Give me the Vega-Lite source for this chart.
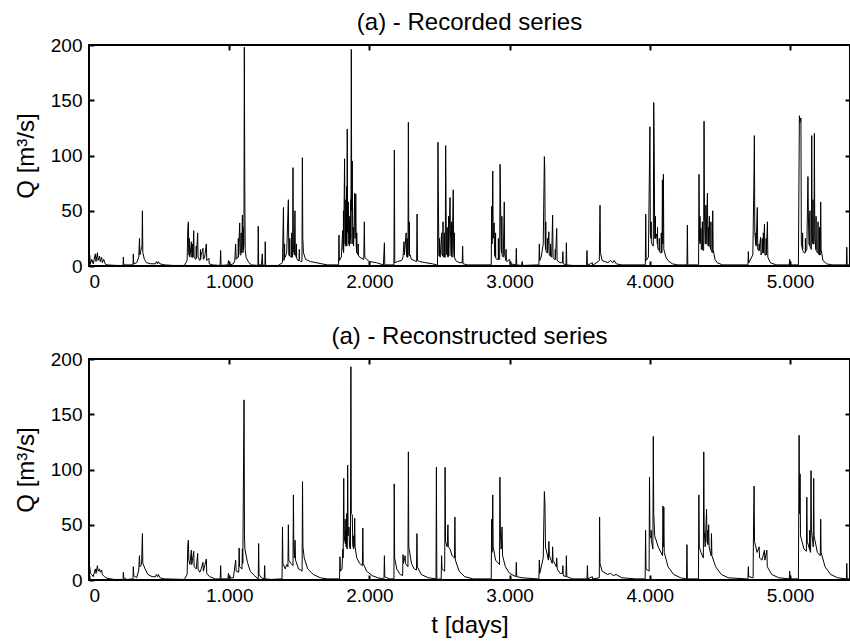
{
 "$schema": "https://vega.github.io/schema/vega-lite/v6.json",
 "padding": {"left": 13, "top": 10, "right": 0, "bottom": 0},
 "background": "white",
 "config": {
  "font": "Liberation Sans",
  "view": {"stroke": "black", "strokeWidth": 2},
  "axis": {"grid": false, "domain": false, "tickColor": "black", "tickWidth": 2, "tickSize": -5, "labelFontSize": 19, "labelColor": "black", "titleFontSize": 24, "titleFontWeight": "normal", "titleColor": "black", "labelFont": "Liberation Sans", "titleFont": "Liberation Sans"},
  "title": {"fontSize": 24, "fontWeight": "normal", "color": "black", "font": "Liberation Sans", "offset": 1},
  "concat": {"spacing": 32}
 },
 "datasets": {
  "rec": [
   {"t":0,"q":3},{"t":5,"q":10},{"t":10,"q":2},{"t":20,"q":6},{"t":30,"q":2},{"t":45,"q":11},{"t":50,"q":4},{"t":60,"q":12},{"t":65,"q":5},{"t":75,"q":9},{"t":80,"q":4},{"t":90,"q":8},{"t":95,"q":3},{"t":105,"q":6},{"t":115,"q":2},{"t":130,"q":1},{"t":200,"q":0.5},{"t":243,"q":0.5},{"t":245,"q":8},{"t":248,"q":1},{"t":300,"q":1},{"t":314,"q":1},{"t":316,"q":11},{"t":319,"q":2},{"t":340,"q":3},{"t":355,"q":8},{"t":360,"q":25},{"t":363,"q":10},{"t":370,"q":14},{"t":378,"q":18},{"t":381,"q":50},{"t":384,"q":12},{"t":395,"q":6},{"t":410,"q":3},{"t":440,"q":2},{"t":475,"q":2},{"t":480,"q":4},{"t":490,"q":2},{"t":495,"q":4},{"t":505,"q":2},{"t":540,"q":1},{"t":600,"q":0.5},{"t":680,"q":0.5},{"t":700,"q":5},{"t":705,"q":35},{"t":709,"q":40},{"t":712,"q":12},{"t":720,"q":8},{"t":730,"q":22},{"t":733,"q":8},{"t":747,"q":32},{"t":750,"q":8},{"t":760,"q":6},{"t":775,"q":30},{"t":778,"q":8},{"t":790,"q":5},{"t":800,"q":10},{"t":813,"q":16},{"t":816,"q":6},{"t":825,"q":8},{"t":837,"q":20},{"t":840,"q":5},{"t":855,"q":7},{"t":858,"q":2},{"t":880,"q":1},{"t":935,"q":0.5},{"t":939,"q":14},{"t":942,"q":0.5},{"t":990,"q":1},{"t":995,"q":5},{"t":1000,"q":3},{"t":1005,"q":1},{"t":1030,"q":2},{"t":1040,"q":5},{"t":1046,"q":20},{"t":1050,"q":6},{"t":1060,"q":8},{"t":1075,"q":39},{"t":1078,"q":10},{"t":1090,"q":15},{"t":1094,"q":46},{"t":1098,"q":12},{"t":1105,"q":20},{"t":1108,"q":198},{"t":1111,"q":80},{"t":1114,"q":15},{"t":1120,"q":8},{"t":1140,"q":3},{"t":1160,"q":1},{"t":1205,"q":0.5},{"t":1207,"q":36},{"t":1210,"q":1},{"t":1230,"q":1},{"t":1236,"q":11},{"t":1239,"q":1},{"t":1255,"q":0.5},{"t":1257,"q":22},{"t":1260,"q":0.5},{"t":1350,"q":0.5},{"t":1380,"q":3},{"t":1387,"q":53},{"t":1390,"q":5},{"t":1400,"q":8},{"t":1410,"q":12},{"t":1422,"q":60},{"t":1425,"q":10},{"t":1440,"q":8},{"t":1452,"q":8},{"t":1455,"q":89},{"t":1458,"q":15},{"t":1465,"q":10},{"t":1469,"q":50},{"t":1472,"q":10},{"t":1490,"q":5},{"t":1510,"q":4},{"t":1519,"q":4},{"t":1522,"q":98},{"t":1525,"q":25},{"t":1530,"q":12},{"t":1545,"q":6},{"t":1580,"q":4},{"t":1620,"q":3},{"t":1660,"q":2},{"t":1700,"q":1},{"t":1770,"q":1},{"t":1780,"q":1},{"t":1783,"q":28},{"t":1786,"q":5},{"t":1800,"q":8},{"t":1809,"q":32},{"t":1812,"q":15},{"t":1823,"q":97},{"t":1826,"q":30},{"t":1832,"q":45},{"t":1835,"q":20},{"t":1842,"q":124},{"t":1845,"q":30},{"t":1850,"q":58},{"t":1853,"q":20},{"t":1860,"q":40},{"t":1865,"q":25},{"t":1871,"q":196},{"t":1874,"q":50},{"t":1878,"q":95},{"t":1881,"q":20},{"t":1890,"q":30},{"t":1895,"q":66},{"t":1898,"q":25},{"t":1903,"q":65},{"t":1906,"q":18},{"t":1915,"q":12},{"t":1930,"q":8},{"t":1960,"q":6},{"t":1964,"q":40},{"t":1967,"q":8},{"t":1980,"q":6},{"t":2000,"q":4},{"t":2050,"q":3},{"t":2100,"q":1},{"t":2107,"q":21},{"t":2110,"q":1},{"t":2150,"q":1},{"t":2175,"q":1},{"t":2178,"q":105},{"t":2181,"q":3},{"t":2200,"q":4},{"t":2230,"q":5},{"t":2240,"q":8},{"t":2247,"q":22},{"t":2250,"q":10},{"t":2262,"q":30},{"t":2265,"q":10},{"t":2275,"q":8},{"t":2278,"q":130},{"t":2281,"q":20},{"t":2290,"q":10},{"t":2300,"q":6},{"t":2320,"q":5},{"t":2337,"q":4},{"t":2340,"q":47},{"t":2343,"q":5},{"t":2360,"q":4},{"t":2400,"q":3},{"t":2450,"q":2},{"t":2480,"q":1},{"t":2486,"q":1},{"t":2489,"q":112},{"t":2492,"q":58},{"t":2496,"q":10},{"t":2505,"q":8},{"t":2515,"q":30},{"t":2518,"q":10},{"t":2530,"q":8},{"t":2541,"q":8},{"t":2544,"q":109},{"t":2547,"q":52},{"t":2550,"q":12},{"t":2560,"q":8},{"t":2575,"q":62},{"t":2578,"q":33},{"t":2582,"q":10},{"t":2590,"q":8},{"t":2598,"q":69},{"t":2601,"q":15},{"t":2615,"q":5},{"t":2640,"q":3},{"t":2662,"q":3},{"t":2665,"q":18},{"t":2668,"q":2},{"t":2700,"q":1},{"t":2860,"q":1},{"t":2869,"q":1},{"t":2872,"q":54},{"t":2875,"q":20},{"t":2880,"q":86},{"t":2883,"q":25},{"t":2890,"q":39},{"t":2893,"q":10},{"t":2910,"q":6},{"t":2929,"q":6},{"t":2932,"q":92},{"t":2935,"q":63},{"t":2940,"q":15},{"t":2955,"q":8},{"t":2962,"q":58},{"t":2965,"q":10},{"t":2980,"q":4},{"t":3000,"q":6},{"t":3005,"q":2},{"t":3045,"q":1},{"t":3048,"q":16},{"t":3051,"q":1},{"t":3085,"q":0.5},{"t":3090,"q":4},{"t":3093,"q":0.5},{"t":3200,"q":1},{"t":3209,"q":1},{"t":3212,"q":20},{"t":3215,"q":5},{"t":3225,"q":8},{"t":3240,"q":20},{"t":3248,"q":99},{"t":3251,"q":87},{"t":3254,"q":20},{"t":3265,"q":12},{"t":3280,"q":31},{"t":3283,"q":10},{"t":3300,"q":8},{"t":3307,"q":46},{"t":3310,"q":8},{"t":3320,"q":6},{"t":3336,"q":34},{"t":3339,"q":5},{"t":3360,"q":3},{"t":3377,"q":3},{"t":3380,"q":13},{"t":3383,"q":2},{"t":3402,"q":1},{"t":3405,"q":21},{"t":3408,"q":1},{"t":3450,"q":0.5},{"t":3549,"q":0.5},{"t":3552,"q":14},{"t":3555,"q":0.5},{"t":3590,"q":3},{"t":3593,"q":0.5},{"t":3640,"q":5},{"t":3645,"q":55},{"t":3648,"q":12},{"t":3660,"q":5},{"t":3700,"q":3},{"t":3720,"q":5},{"t":3735,"q":3},{"t":3745,"q":5},{"t":3760,"q":2},{"t":3800,"q":1},{"t":3960,"q":1},{"t":3968,"q":1},{"t":3971,"q":47},{"t":3974,"q":5},{"t":3990,"q":8},{"t":4001,"q":126},{"t":4004,"q":30},{"t":4015,"q":20},{"t":4025,"q":18},{"t":4028,"q":148},{"t":4031,"q":116},{"t":4035,"q":25},{"t":4050,"q":29},{"t":4060,"q":15},{"t":4075,"q":12},{"t":4087,"q":12},{"t":4090,"q":78},{"t":4093,"q":20},{"t":4097,"q":83},{"t":4100,"q":15},{"t":4115,"q":8},{"t":4130,"q":5},{"t":4160,"q":2},{"t":4200,"q":1},{"t":4265,"q":1},{"t":4268,"q":37},{"t":4271,"q":1},{"t":4340,"q":1},{"t":4348,"q":1},{"t":4351,"q":83},{"t":4354,"q":25},{"t":4365,"q":34},{"t":4368,"q":15},{"t":4384,"q":14},{"t":4387,"q":131},{"t":4390,"q":48},{"t":4395,"q":20},{"t":4411,"q":66},{"t":4414,"q":20},{"t":4425,"q":45},{"t":4428,"q":18},{"t":4446,"q":12},{"t":4449,"q":50},{"t":4452,"q":15},{"t":4465,"q":6},{"t":4480,"q":3},{"t":4520,"q":1},{"t":4690,"q":1},{"t":4700,"q":1},{"t":4703,"q":13},{"t":4706,"q":3},{"t":4735,"q":10},{"t":4742,"q":72},{"t":4746,"q":118},{"t":4749,"q":30},{"t":4767,"q":53},{"t":4770,"q":15},{"t":4790,"q":26},{"t":4793,"q":10},{"t":4818,"q":38},{"t":4821,"q":10},{"t":4839,"q":40},{"t":4842,"q":8},{"t":4860,"q":3},{"t":4900,"q":1},{"t":4995,"q":1},{"t":4998,"q":6},{"t":5001,"q":1},{"t":5060,"q":1},{"t":5067,"q":136},{"t":5071,"q":130},{"t":5078,"q":134},{"t":5081,"q":20},{"t":5100,"q":12},{"t":5120,"q":15},{"t":5128,"q":81},{"t":5131,"q":48},{"t":5135,"q":20},{"t":5152,"q":15},{"t":5155,"q":118},{"t":5158,"q":30},{"t":5171,"q":20},{"t":5174,"q":120},{"t":5177,"q":25},{"t":5195,"q":12},{"t":5216,"q":10},{"t":5219,"q":58},{"t":5222,"q":15},{"t":5235,"q":5},{"t":5260,"q":2},{"t":5300,"q":1},{"t":5402,"q":1},{"t":5405,"q":17},{"t":5408,"q":1},{"t":5450,"q":1},
   {"t":714,"q":10},{"t":715,"q":25},{"t":716,"q":9},{"t":739,"q":8},{"t":740,"q":20},{"t":741,"q":8},{"t":764,"q":7},{"t":765,"q":18},{"t":766,"q":7},{"t":794,"q":6},{"t":795,"q":15},{"t":796,"q":6},
   {"t":1064,"q":8},{"t":1065,"q":25},{"t":1066,"q":8},{"t":1084,"q":10},{"t":1085,"q":30},{"t":1086,"q":12},{"t":1099,"q":14},{"t":1100,"q":35},{"t":1101,"q":15},
   {"t":1394,"q":7},{"t":1395,"q":20},{"t":1396,"q":8},{"t":1431,"q":9},{"t":1432,"q":25},{"t":1433,"q":9},{"t":1445,"q":8},{"t":1446,"q":30},{"t":1447,"q":8},{"t":1479,"q":8},{"t":1480,"q":20},{"t":1481,"q":7},{"t":1499,"q":5},{"t":1500,"q":15},{"t":1501,"q":5},
   {"t":1814,"q":14},{"t":1815,"q":50},{"t":1816,"q":12},{"t":1827,"q":20},{"t":1828,"q":60},{"t":1829,"q":18},{"t":1837,"q":20},{"t":1838,"q":72},{"t":1839,"q":18},{"t":1855,"q":20},{"t":1856,"q":45},{"t":1857,"q":18},{"t":1866,"q":25},{"t":1867,"q":60},{"t":1868,"q":20},{"t":1885,"q":20},{"t":1886,"q":35},{"t":1887,"q":18},{"t":1909,"q":12},{"t":1910,"q":30},{"t":1911,"q":12},{"t":1919,"q":10},{"t":1920,"q":20},{"t":1921,"q":10},
   {"t":2269,"q":8},{"t":2270,"q":25},{"t":2271,"q":8},{"t":2284,"q":10},{"t":2285,"q":40},{"t":2286,"q":9},
   {"t":2499,"q":9},{"t":2500,"q":25},{"t":2501,"q":9},{"t":2524,"q":9},{"t":2525,"q":40},{"t":2526,"q":9},{"t":2534,"q":8},{"t":2535,"q":30},{"t":2536,"q":8},{"t":2554,"q":10},{"t":2555,"q":35},{"t":2556,"q":10},{"t":2564,"q":9},{"t":2565,"q":45},{"t":2566,"q":9},{"t":2585,"q":9},{"t":2586,"q":40},{"t":2587,"q":9},{"t":2605,"q":8},{"t":2606,"q":30},{"t":2607,"q":8},
   {"t":2899,"q":8},{"t":2900,"q":30},{"t":2901,"q":7},{"t":2919,"q":6},{"t":2920,"q":25},{"t":2921,"q":6},{"t":2944,"q":12},{"t":2945,"q":45},{"t":2946,"q":10},{"t":2974,"q":5},{"t":2975,"q":15},{"t":2976,"q":5},
   {"t":3257,"q":15},{"t":3258,"q":40},{"t":3259,"q":14},{"t":3269,"q":12},{"t":3270,"q":25},{"t":3271,"q":12},{"t":3291,"q":9},{"t":3292,"q":20},{"t":3293,"q":9},{"t":3325,"q":6},{"t":3326,"q":15},{"t":3327,"q":6},
   {"t":4009,"q":25},{"t":4010,"q":40},{"t":4011,"q":22},{"t":4039,"q":25},{"t":4040,"q":45},{"t":4041,"q":25},{"t":4054,"q":20},{"t":4055,"q":35},{"t":4056,"q":18},{"t":4067,"q":14},{"t":4068,"q":25},{"t":4069,"q":13},{"t":4081,"q":12},{"t":4082,"q":30},{"t":4083,"q":12},
   {"t":4357,"q":22},{"t":4358,"q":45},{"t":4359,"q":20},{"t":4374,"q":15},{"t":4375,"q":40},{"t":4376,"q":15},{"t":4399,"q":20},{"t":4400,"q":55},{"t":4401,"q":20},{"t":4417,"q":18},{"t":4418,"q":35},{"t":4419,"q":18},{"t":4435,"q":15},{"t":4436,"q":40},{"t":4437,"q":15},
   {"t":4756,"q":20},{"t":4757,"q":30},{"t":4758,"q":18},{"t":4779,"q":14},{"t":4780,"q":20},{"t":4781,"q":14},{"t":4801,"q":12},{"t":4802,"q":25},{"t":4803,"q":12},{"t":4809,"q":12},{"t":4810,"q":30},{"t":4811,"q":12},{"t":4829,"q":10},{"t":4830,"q":25},{"t":4831,"q":10},
   {"t":5089,"q":15},{"t":5090,"q":30},{"t":5091,"q":14},{"t":5109,"q":12},{"t":5110,"q":25},{"t":5111,"q":13},{"t":5141,"q":18},{"t":5142,"q":50},{"t":5143,"q":18},{"t":5163,"q":20},{"t":5164,"q":60},{"t":5165,"q":20},{"t":5185,"q":15},{"t":5186,"q":45},{"t":5187,"q":14},{"t":5199,"q":12},{"t":5200,"q":40},{"t":5201,"q":12},{"t":5209,"q":10},{"t":5210,"q":35},{"t":5211,"q":10}
  ],
  "recon": [
   {"t":0,"q":2},{"t":5,"q":12},{"t":10,"q":6},{"t":20,"q":5},{"t":30,"q":3},{"t":45,"q":10},{"t":50,"q":6},{"t":60,"q":13},{"t":65,"q":8},{"t":75,"q":10},{"t":80,"q":7},{"t":90,"q":9},{"t":95,"q":5},{"t":110,"q":3},{"t":130,"q":1.5},{"t":180,"q":0.5},{"t":243,"q":0.5},{"t":245,"q":7},{"t":248,"q":2},{"t":270,"q":0.5},{"t":314,"q":1},{"t":316,"q":12},{"t":319,"q":4},{"t":340,"q":2},{"t":355,"q":9},{"t":360,"q":22},{"t":363,"q":12},{"t":375,"q":14},{"t":381,"q":42},{"t":384,"q":15},{"t":400,"q":10},{"t":420,"q":5},{"t":450,"q":3},{"t":475,"q":3},{"t":480,"q":5},{"t":490,"q":3},{"t":495,"q":5},{"t":505,"q":2},{"t":540,"q":1},{"t":680,"q":0.5},{"t":700,"q":5},{"t":705,"q":32},{"t":709,"q":36},{"t":712,"q":18},{"t":720,"q":14},{"t":730,"q":27},{"t":733,"q":14},{"t":747,"q":26},{"t":750,"q":12},{"t":765,"q":10},{"t":775,"q":24},{"t":778,"q":10},{"t":790,"q":7},{"t":800,"q":10},{"t":813,"q":16},{"t":816,"q":8},{"t":837,"q":19},{"t":840,"q":6},{"t":860,"q":3},{"t":900,"q":1},{"t":936,"q":1},{"t":939,"q":13},{"t":942,"q":1},{"t":990,"q":1},{"t":995,"q":6},{"t":1000,"q":2},{"t":1030,"q":2},{"t":1046,"q":18},{"t":1050,"q":8},{"t":1068,"q":7},{"t":1071,"q":29},{"t":1074,"q":12},{"t":1091,"q":10},{"t":1094,"q":28},{"t":1097,"q":15},{"t":1106,"q":163},{"t":1109,"q":40},{"t":1112,"q":28},{"t":1130,"q":16},{"t":1150,"q":8},{"t":1180,"q":4},{"t":1207,"q":1},{"t":1210,"q":33},{"t":1213,"q":5},{"t":1230,"q":2},{"t":1250,"q":1},{"t":1253,"q":13},{"t":1256,"q":1},{"t":1300,"q":0.5},{"t":1370,"q":1},{"t":1377,"q":1},{"t":1380,"q":48},{"t":1383,"q":15},{"t":1400,"q":10},{"t":1410,"q":14},{"t":1419,"q":12},{"t":1422,"q":50},{"t":1425,"q":18},{"t":1440,"q":15},{"t":1455,"q":13},{"t":1458,"q":77},{"t":1461,"q":30},{"t":1465,"q":20},{"t":1470,"q":36},{"t":1473,"q":18},{"t":1495,"q":10},{"t":1510,"q":9},{"t":1520,"q":8},{"t":1523,"q":89},{"t":1526,"q":30},{"t":1535,"q":20},{"t":1560,"q":10},{"t":1600,"q":5},{"t":1650,"q":2},{"t":1700,"q":1},{"t":1780,"q":1},{"t":1787,"q":1},{"t":1790,"q":21},{"t":1793,"q":8},{"t":1805,"q":10},{"t":1810,"q":28},{"t":1813,"q":20},{"t":1817,"q":92},{"t":1820,"q":40},{"t":1830,"q":45},{"t":1833,"q":30},{"t":1842,"q":28},{"t":1845,"q":104},{"t":1848,"q":40},{"t":1855,"q":48},{"t":1858,"q":30},{"t":1865,"q":28},{"t":1868,"q":193},{"t":1871,"q":60},{"t":1878,"q":59},{"t":1881,"q":35},{"t":1892,"q":30},{"t":1895,"q":56},{"t":1898,"q":30},{"t":1910,"q":20},{"t":1930,"q":15},{"t":1950,"q":13},{"t":1953,"q":47},{"t":1956,"q":15},{"t":1980,"q":8},{"t":2020,"q":4},{"t":2060,"q":2},{"t":2100,"q":1},{"t":2104,"q":1},{"t":2107,"q":22},{"t":2110,"q":3},{"t":2140,"q":1},{"t":2175,"q":1},{"t":2177,"q":87},{"t":2180,"q":20},{"t":2195,"q":10},{"t":2220,"q":5},{"t":2237,"q":4},{"t":2240,"q":23},{"t":2243,"q":15},{"t":2255,"q":22},{"t":2258,"q":15},{"t":2275,"q":12},{"t":2278,"q":116},{"t":2281,"q":30},{"t":2300,"q":15},{"t":2320,"q":10},{"t":2336,"q":9},{"t":2339,"q":42},{"t":2342,"q":12},{"t":2370,"q":5},{"t":2420,"q":2},{"t":2475,"q":1},{"t":2478,"q":102},{"t":2481,"q":0.5},{"t":2500,"q":1},{"t":2512,"q":1},{"t":2515,"q":22},{"t":2518,"q":10},{"t":2537,"q":8},{"t":2540,"q":102},{"t":2543,"q":35},{"t":2555,"q":30},{"t":2560,"q":50},{"t":2563,"q":30},{"t":2575,"q":28},{"t":2590,"q":22},{"t":2607,"q":20},{"t":2610,"q":57},{"t":2613,"q":18},{"t":2640,"q":8},{"t":2680,"q":3},{"t":2740,"q":1},{"t":2860,"q":1},{"t":2869,"q":1},{"t":2872,"q":55},{"t":2875,"q":25},{"t":2880,"q":77},{"t":2883,"q":30},{"t":2900,"q":18},{"t":2928,"q":14},{"t":2931,"q":93},{"t":2934,"q":45},{"t":2940,"q":28},{"t":2946,"q":48},{"t":2950,"q":22},{"t":2970,"q":12},{"t":3000,"q":6},{"t":3045,"q":3},{"t":3048,"q":16},{"t":3051,"q":3},{"t":3090,"q":2},{"t":3200,"q":1},{"t":3209,"q":1},{"t":3212,"q":18},{"t":3215,"q":6},{"t":3240,"q":20},{"t":3248,"q":80},{"t":3252,"q":70},{"t":3256,"q":30},{"t":3277,"q":18},{"t":3280,"q":35},{"t":3284,"q":22},{"t":3304,"q":15},{"t":3307,"q":30},{"t":3310,"q":18},{"t":3333,"q":12},{"t":3336,"q":20},{"t":3340,"q":10},{"t":3360,"q":6},{"t":3377,"q":6},{"t":3380,"q":13},{"t":3383,"q":4},{"t":3402,"q":3},{"t":3405,"q":22},{"t":3408,"q":3},{"t":3450,"q":1},{"t":3552,"q":1},{"t":3555,"q":13},{"t":3558,"q":1},{"t":3590,"q":3},{"t":3593,"q":1},{"t":3640,"q":2},{"t":3642,"q":57},{"t":3645,"q":15},{"t":3660,"q":8},{"t":3700,"q":5},{"t":3720,"q":6},{"t":3740,"q":4},{"t":3760,"q":5},{"t":3800,"q":2},{"t":3900,"q":1},{"t":3960,"q":1},{"t":3967,"q":1},{"t":3970,"q":45},{"t":3973,"q":10},{"t":3995,"q":8},{"t":3998,"q":93},{"t":4001,"q":40},{"t":4022,"q":28},{"t":4025,"q":130},{"t":4028,"q":60},{"t":4035,"q":40},{"t":4060,"q":30},{"t":4091,"q":22},{"t":4094,"q":67},{"t":4097,"q":30},{"t":4100,"q":66},{"t":4103,"q":25},{"t":4130,"q":12},{"t":4170,"q":5},{"t":4220,"q":2},{"t":4262,"q":1},{"t":4265,"q":32},{"t":4268,"q":1},{"t":4340,"q":1},{"t":4347,"q":1},{"t":4350,"q":77},{"t":4353,"q":30},{"t":4365,"q":25},{"t":4382,"q":20},{"t":4385,"q":116},{"t":4388,"q":45},{"t":4395,"q":30},{"t":4405,"q":64},{"t":4408,"q":35},{"t":4420,"q":50},{"t":4423,"q":30},{"t":4437,"q":22},{"t":4440,"q":42},{"t":4443,"q":22},{"t":4470,"q":12},{"t":4510,"q":5},{"t":4560,"q":2},{"t":4690,"q":1},{"t":4700,"q":1},{"t":4703,"q":12},{"t":4706,"q":3},{"t":4737,"q":2},{"t":4740,"q":50},{"t":4744,"q":85},{"t":4747,"q":35},{"t":4765,"q":25},{"t":4780,"q":30},{"t":4783,"q":20},{"t":4800,"q":18},{"t":4818,"q":27},{"t":4821,"q":18},{"t":4835,"q":27},{"t":4838,"q":12},{"t":4870,"q":5},{"t":4920,"q":2},{"t":4995,"q":1},{"t":4998,"q":8},{"t":5001,"q":1},{"t":5060,"q":1},{"t":5065,"q":131},{"t":5068,"q":60},{"t":5072,"q":96},{"t":5075,"q":40},{"t":5100,"q":28},{"t":5117,"q":26},{"t":5120,"q":75},{"t":5123,"q":35},{"t":5147,"q":25},{"t":5150,"q":99},{"t":5153,"q":45},{"t":5166,"q":30},{"t":5169,"q":92},{"t":5172,"q":40},{"t":5195,"q":25},{"t":5216,"q":22},{"t":5219,"q":55},{"t":5222,"q":25},{"t":5250,"q":12},{"t":5290,"q":5},{"t":5340,"q":2},{"t":5402,"q":1},{"t":5405,"q":15},{"t":5408,"q":1},{"t":5450,"q":1},
   {"t":1826,"q":35},{"t":1827,"q":55},{"t":1828,"q":33},{"t":1837,"q":30},{"t":1838,"q":60},{"t":1839,"q":30},{"t":1884,"q":30},{"t":1885,"q":40},{"t":1886,"q":28},
   {"t":4009,"q":38},{"t":4010,"q":45},{"t":4011,"q":36},{"t":4412,"q":33},{"t":4413,"q":45},{"t":4414,"q":32},{"t":5139,"q":28},{"t":5140,"q":45},{"t":5141,"q":27}
  ]
 },
 "vconcat": [
  {
   "title": "(a) - Recorded series",
   "width": 761, "height": 221,
   "data": {"name": "rec"},
   "layer": [
    {"mark": {"type": "line", "color": "black", "strokeWidth": 1, "clip": true},
     "encoding": {
      "x": {"field": "t", "type": "quantitative", "scale": {"domain": [0, 5428], "nice": false, "zero": false}, "axis": {"values": [0,1000,2000,3000,4000,5000], "labelExpr": "replace(format(datum.value, ','), ',', '.')", "title": null, "labelPadding": 11}},
      "y": {"field": "q", "type": "quantitative", "scale": {"domain": [0, 200], "nice": false}, "axis": {"values": [0,50,100,150,200], "title": "Q [m³/s]", "labelPadding": 12, "titlePadding": 12}}
     }},
    {"mark": {"type": "line", "opacity": 0, "clip": true},
     "encoding": {
      "x": {"field": "t", "type": "quantitative", "axis": {"orient": "top", "labels": false, "title": null, "values": [1000,2000,3000,4000,5000]}},
      "y": {"field": "q", "type": "quantitative", "axis": {"orient": "right", "labels": false, "title": null, "values": [50,100,150]}}
     }}
   ],
   "resolve": {"axis": {"x": "independent", "y": "independent"}}
  },
  {
   "title": "(a) - Reconstructed series",
   "width": 761, "height": 221,
   "data": {"name": "recon"},
   "layer": [
    {"mark": {"type": "line", "color": "black", "strokeWidth": 1, "clip": true},
     "encoding": {
      "x": {"field": "t", "type": "quantitative", "scale": {"domain": [0, 5428], "nice": false, "zero": false}, "axis": {"values": [0,1000,2000,3000,4000,5000], "labelExpr": "replace(format(datum.value, ','), ',', '.')", "title": "t [days]", "labelPadding": 11, "titlePadding": 8}},
      "y": {"field": "q", "type": "quantitative", "scale": {"domain": [0, 200], "nice": false}, "axis": {"values": [0,50,100,150,200], "title": "Q [m³/s]", "labelPadding": 12, "titlePadding": 12}}
     }},
    {"mark": {"type": "line", "opacity": 0, "clip": true},
     "encoding": {
      "x": {"field": "t", "type": "quantitative", "axis": {"orient": "top", "labels": false, "title": null, "values": [1000,2000,3000,4000,5000]}},
      "y": {"field": "q", "type": "quantitative", "axis": {"orient": "right", "labels": false, "title": null, "values": [50,100,150]}}
     }}
   ],
   "resolve": {"axis": {"x": "independent", "y": "independent"}}
  }
 ]
}
